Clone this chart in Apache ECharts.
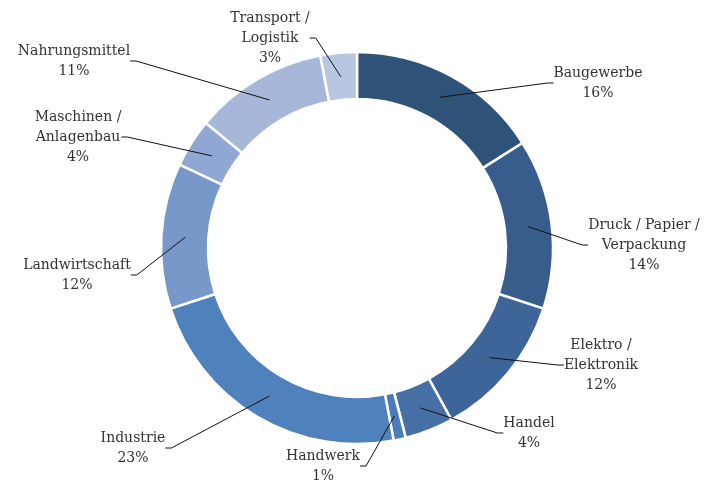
<!DOCTYPE html>
<html>
<head>
<meta charset="utf-8">
<script src="https://cdn.jsdelivr.net/npm/echarts@6/dist/echarts.min.js"></script>
<style>
  html, body { margin: 0; padding: 0; background: #fff; }
  #chart { width: 705px; height: 484px; }
</style>
</head>
<body>
<div id="chart"></div>
<script>
// branches (clockwise from top)
const categories = [
  'Baugewerbe', 'Druck / Papier /\nVerpackung', 'Elektro /\nElektronik', 'Handel', 'Handwerk',
  'Industrie', 'Landwirtschaft', 'Maschinen /\nAnlagenbau', 'Nahrungsmittel', 'Transport /\nLogistik'
]
const shares = [16, 14, 12, 4, 1, 23, 12, 4, 11, 3]
const colors = [
  '#2f5279', '#385d8c', '#3e6599', '#456fa5', '#4b7bb8',
  '#4f81bd', '#7798c8', '#8fa7d2', '#a6b7da', '#b9c6e2'
]
// label centres in px
const labelPos = [
  [598, 83], [644, 245], [601, 365], [529, 433], [323, 466],
  [133, 448], [77, 275], [78, 137], [74, 61], [270, 38]
]

const chart = echarts.init(document.getElementById('chart'))

const ringData = categories.map((name, i) => ({
  name: name,
  value: shares[i],
  itemStyle: { color: colors[i] }
}))

const guideData = categories.map((name, i) => ({
  name: name,
  value: shares[i]
}))

chart.setOption({
  animation: false,
  series: [
    {
      name: 'ring',
      type: 'pie',
      z: 2,
      center: [357, 248],
      radius: [149, 196],
      startAngle: 90,
      clockwise: true,
      silent: true,
      itemStyle: { borderColor: '#fff', borderWidth: 2.5 },
      label: { show: false },
      labelLine: { show: false },
      data: ringData
    },
    {
      // invisible helper so leader lines start in the middle of the ring
      name: 'guides',
      type: 'pie',
      z: 5,
      center: [357, 248],
      radius: [0, 172],
      startAngle: 90,
      clockwise: true,
      silent: true,
      itemStyle: { color: 'rgba(0,0,0,0)' },
      label: {
        show: true,
        position: 'outside',
        formatter: p => p.name + '\n' + p.value + '%',
        fontFamily: 'DejaVu Serif',
        fontSize: 14,
        lineHeight: 20,
        color: '#333',
        align: 'center'
      },
      labelLine: {
        show: true,
        length: 10,
        length2: 6,
        lineStyle: { color: '#111', width: 1 }
      },
      labelLayout: function (params) {
        const p = labelPos[params.dataIndex]
        return { x: p[0], y: p[1], align: 'center', verticalAlign: 'middle' }
      },
      data: guideData
    }
  ]
})
</script>
</body>
</html>
